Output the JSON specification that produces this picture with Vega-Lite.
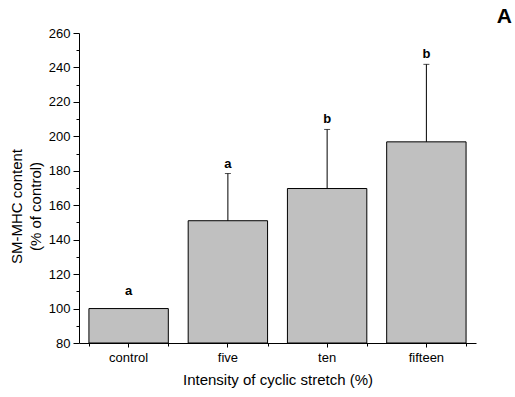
{
  "$schema": "https://vega.github.io/schema/vega-lite/v6.json",
  "width": 397,
  "height": 310,
  "autosize": {"type": "none"},
  "padding": {"left": 79, "top": 33, "right": 39, "bottom": 54},
  "background": "white",
  "title": {"text": "A", "anchor": "end", "frame": "group", "dx": 36, "fontSize": 21, "fontWeight": "bold", "font": "Liberation Sans", "color": "black", "baseline": "alphabetic", "offset": 0, "dy": 17},
  "config": {
    "font": "Liberation Sans",
    "view": {"stroke": null},
    "axis": {"domainColor": "black", "tickColor": "black", "labelColor": "black", "titleColor": "black", "grid": false, "titleFontWeight": "normal"}
  },
  "data": {"values": [
    {"c": "control", "value": 100, "upper": 100, "sig": "a"},
    {"c": "five", "value": 151, "upper": 178.4, "sig": "a"},
    {"c": "ten", "value": 169.7, "upper": 204, "sig": "b"},
    {"c": "fifteen", "value": 196.8, "upper": 241.8, "sig": "b"}
  ]},
  "resolve": {"axis": {"x": "independent", "y": "independent"}},
  "layer": [
    {
      "mark": {"type": "bar", "fill": "#c0c0c0", "stroke": "black", "strokeWidth": 1},
      "encoding": {
        "x": {"field": "c", "type": "nominal", "sort": ["control", "five", "ten", "fifteen"],
              "scale": {"paddingInner": 0.2, "paddingOuter": 0.1},
              "axis": {"orient": "bottom", "title": "Intensity of cyclic stretch (%)", "labelAngle": 0, "labelFontSize": 13, "titleFontSize": 15, "tickSize": 4, "labelPadding": 4, "titlePadding": 8}},
        "y": {"field": "value", "type": "quantitative", "scale": {"domain": [80, 260], "zero": false, "nice": false},
              "axis": {"orient": "left", "values": [80, 100, 120, 140, 160, 180, 200, 220, 240, 260], "tickSize": 6, "labelPadding": 3, "labelFontSize": 13, "title": ["SM-MHC content", "(% of control)"], "titleFontSize": 15, "titlePadding": 5, "titleLineHeight": 19, "titleY": 173}},
        "y2": {"datum": 80}
      }
    },
    {
      "transform": [{"filter": "datum.upper > datum.value"}],
      "mark": {"type": "rule", "color": "black", "strokeWidth": 1},
      "encoding": {
        "x": {"field": "c", "type": "nominal", "sort": ["control", "five", "ten", "fifteen"],
              "axis": {"orient": "bottom", "tickBand": "extent", "labels": false, "domain": false, "title": null, "tickSize": 3}},
        "y": {"field": "value", "type": "quantitative",
              "axis": {"orient": "left", "values": [90, 110, 130, 150, 170, 190, 210, 230, 250], "labels": false, "domain": false, "title": null, "tickSize": 3}},
        "y2": {"field": "upper"}
      }
    },
    {
      "transform": [{"filter": "datum.upper > datum.value"}],
      "mark": {"type": "tick", "color": "black", "thickness": 1, "size": 6, "orient": "horizontal"},
      "encoding": {
        "x": {"field": "c", "type": "nominal", "sort": ["control", "five", "ten", "fifteen"], "axis": null},
        "y": {"field": "upper", "type": "quantitative", "axis": null}
      }
    },
    {
      "transform": [{"filter": "datum.upper > datum.value"}],
      "mark": {"type": "text", "fontWeight": "bold", "fontSize": 13, "baseline": "alphabetic", "dy": -6, "color": "black"},
      "encoding": {
        "x": {"field": "c", "type": "nominal", "sort": ["control", "five", "ten", "fifteen"], "axis": null},
        "y": {"field": "upper", "type": "quantitative", "axis": null},
        "text": {"field": "sig"}
      }
    },
    {
      "transform": [{"filter": "datum.upper <= datum.value"}],
      "mark": {"type": "text", "fontWeight": "bold", "fontSize": 13, "baseline": "alphabetic", "dy": -14, "color": "black"},
      "encoding": {
        "x": {"field": "c", "type": "nominal", "sort": ["control", "five", "ten", "fifteen"], "axis": null},
        "y": {"field": "upper", "type": "quantitative", "axis": null},
        "text": {"field": "sig"}
      }
    }
  ]
}
